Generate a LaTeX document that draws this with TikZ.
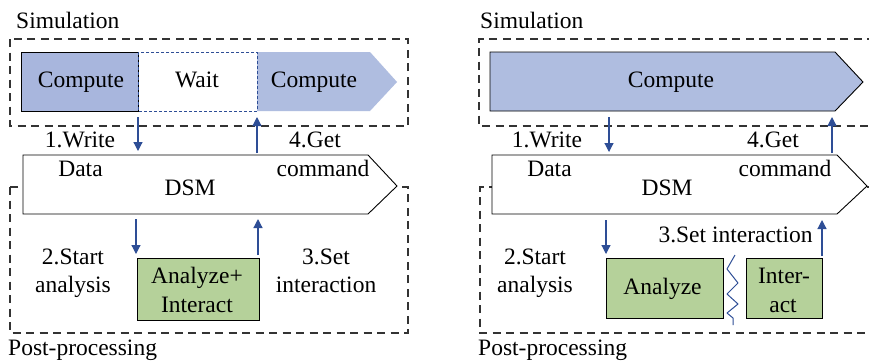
\documentclass[tikz,border=0pt]{standalone}
\usepackage{fontspec}
\setmainfont{Liberation Serif}
\usetikzlibrary{arrows.meta}
\definecolor{simblue}{HTML}{AFBDE0}
\definecolor{simblueD}{HTML}{A8B6DD}
\definecolor{anagreen}{HTML}{B5D19A}
\definecolor{arrblue}{HTML}{2E4E96}
\definecolor{dashgray}{HTML}{333333}
\tikzset{
  lbl/.style={anchor=base, inner sep=0pt, font=\fontsize{23.5}{26}\selectfont},
  lblw/.style={anchor=base west, inner sep=0pt, font=\fontsize{23.5}{26}\selectfont},
  region/.style={draw=dashgray, line width=1.1pt, dash pattern=on 8pt off 5.5pt},
  blkbox/.style={draw=black, line width=0.9pt},
  flow/.style={draw=arrblue, line width=1.2pt, -{Triangle[width=9pt,length=9pt]}},
  waitbox/.style={draw=arrblue, line width=0.9pt, dash pattern=on 3pt off 2pt},
  zig/.style={draw=arrblue, line width=1pt, line join=round},
}
\begin{document}
\begin{tikzpicture}[x=1pt,y=-1pt]
\useasboundingbox[fill=white] (0,0) rectangle (869,360);

% ================= LEFT PANEL =================
\node[lblw] (simL) at (16,28) {Simulation};
\draw[region] (10,39) rectangle (408,126);
\draw[region] (10,187) rectangle (408,333);
% compute / wait / compute
\fill[simblue] (257,52) -- (370,52) -- (397,82) -- (370,111) -- (257,111) -- cycle;
\draw[blkbox, fill=simblueD] (21,52) rectangle (138,111);
\draw[waitbox] (138,52) rectangle (257,111);
\node[lbl] (compL1) at (81,87) {Compute};
\node[lbl] (waitL) at (197,87) {Wait};
\node[lbl] (compL2) at (314,87) {Compute};
% DSM
\draw[blkbox, fill=white] (23,155) -- (368,155) -- (397,186) -- (368,214) -- (23,214) -- cycle;
\node[lbl] (dsmL) at (190,195) {DSM};
\node[lbl] (wrL) at (80,147) {1.Write};
\node[lbl] (dataL) at (80.5,176) {Data};
\node[lbl] (getL) at (315,147) {4.Get};
\node[lbl] (cmdL) at (323,176) {command};
% analyze box
\draw[blkbox, fill=anagreen] (137,258) rectangle (259,320);
\node[lbl] (anaL1) at (197,283) {Analyze+};
\node[lbl] (anaL2) at (197,312) {Interact};
\node[lbl] (stL1) at (73,264) {2.Start};
\node[lbl] (stL2) at (73,292) {analysis};
\node[lbl] (setL1) at (326,264) {3.Set};
\node[lbl] (setL2) at (326,292) {interaction};
\node[lblw] (postL) at (8,355) {Post-processing};
% arrows
\coordinate (a1s) at (138,117); \coordinate (a1e) at (138,151);
\coordinate (a4s) at (257,153); \coordinate (a4e) at (257,117);
\coordinate (a2s) at (136,219); \coordinate (a2e) at (136,254);
\coordinate (a3s) at (258,255); \coordinate (a3e) at (258,219);
\draw[flow] (a1s) -- (a1e);
\draw[flow] (a4s) -- (a4e);
\draw[flow] (a2s) -- (a2e);
\draw[flow] (a3s) -- (a3e);

% ================= RIGHT PANEL =================
\node[lblw] (simR) at (480,28) {Simulation};
\draw[region] (875,39) -- (479,39) -- (479,126) -- (875,126);
\draw[region] (875,187) -- (480,187) -- (480,333) -- (875,333);
\draw[blkbox, fill=simblue] (490,52) -- (835,52) -- (863,82) -- (835,111) -- (490,111) -- cycle;
\node[lbl] (compR) at (671,87) {Compute};
\draw[blkbox, fill=white] (492,155) -- (837,155) -- (867,186) -- (837,214) -- (492,214) -- cycle;
\node[lbl] (dsmR) at (667,195) {DSM};
\node[lbl] (wrR) at (547,147) {1.Write};
\node[lbl] (dataR) at (549.5,176) {Data};
\node[lbl] (getR) at (773,147) {4.Get};
\node[lbl] (cmdR) at (785,176) {command};
\draw[blkbox, fill=anagreen] (606,258) rectangle (723,318);
\draw[blkbox, fill=anagreen] (746,258) rectangle (822,318);
\node[lbl] (anaR) at (662.5,294) {Analyze};
\node[lbl] (intR1) at (784,283) {Inter-};
\node[lbl] (intR2) at (783,312) {act};
\node[lbl] (stR1) at (535,264) {2.Start};
\node[lbl] (stR2) at (535,292) {analysis};
\node[lbl] (setR) at (735.5,242) {3.Set interaction};
\node[lblw] (postR) at (478,355) {Post-processing};
% zigzag
\draw[zig] (735,255) -- (727,269) -- (738,283) -- (727,294) -- (738,304) -- (727,313) -- (733,318) -- (733,325);
% arrows
\coordinate (b1s) at (609,117); \coordinate (b1e) at (609,152);
\coordinate (b4s) at (832,153); \coordinate (b4e) at (832,117);
\coordinate (b2s) at (606,220); \coordinate (b2e) at (606,254);
\coordinate (b3s) at (822,256); \coordinate (b3e) at (822,220);
\draw[flow] (b1s) -- (b1e);
\draw[flow] (b4s) -- (b4e);
\draw[flow] (b2s) -- (b2e);
\draw[flow] (b3s) -- (b3e);
\end{tikzpicture}
\end{document}
